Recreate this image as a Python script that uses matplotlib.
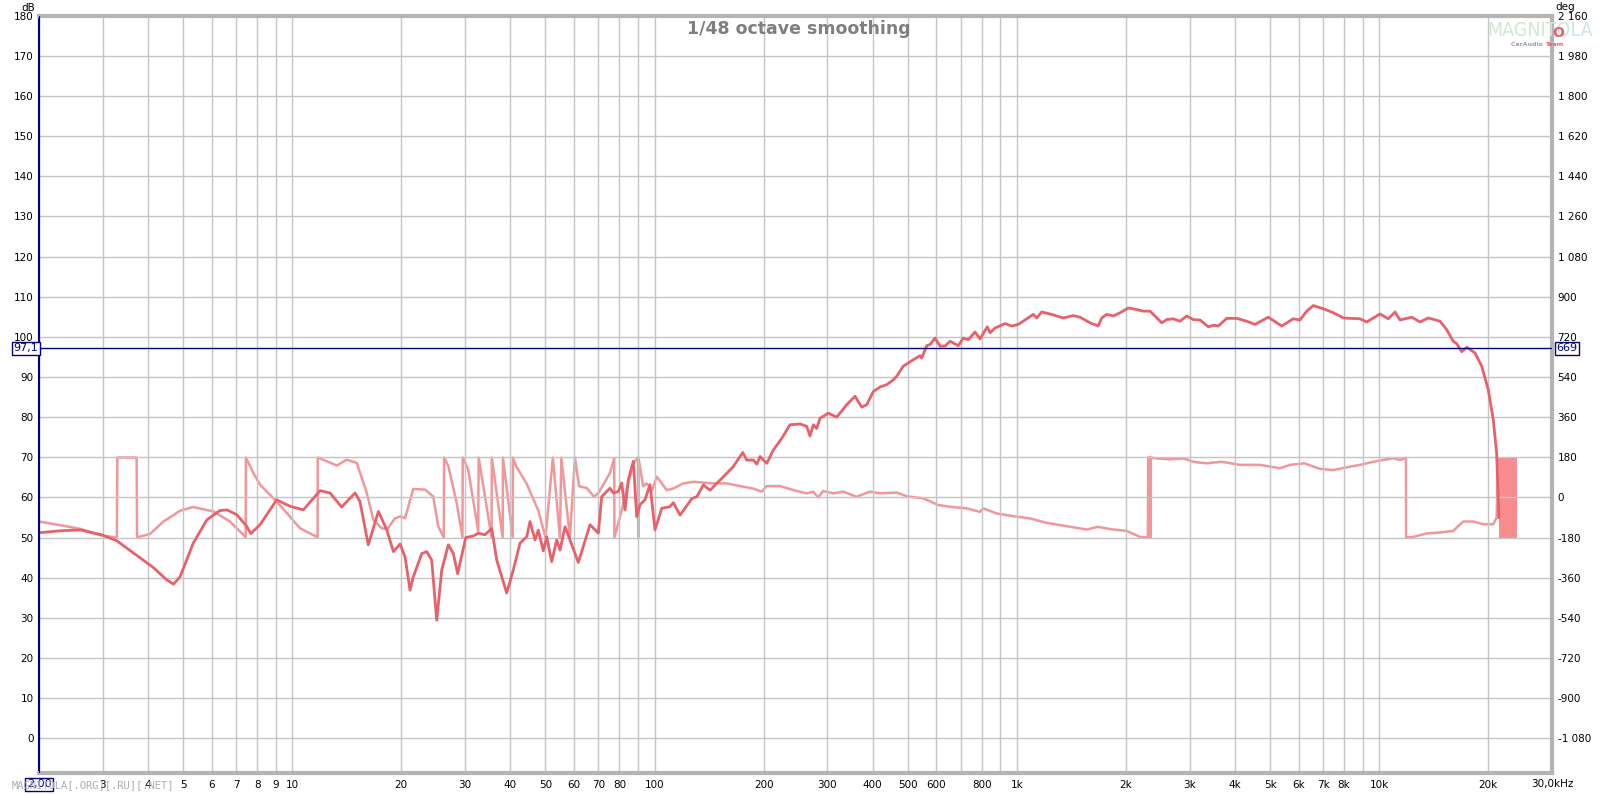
import matplotlib.pyplot as plt
from matplotlib.ticker import FuncFormatter

# SPL trace (Hz, dB)
spl_freq = [2.0, 2.3, 2.6, 3.0, 3.28, 3.64, 4.14, 4.5, 4.7, 4.9, 5.33, 5.81, 6.3, 6.6, 7.03, 7.49,
            7.68, 8.15, 9.06, 9.86, 10.73, 11.94, 12.72, 13.69, 14.9, 15.38, 16.21, 17.29, 17.6,
            18.24, 19.02, 19.84, 20.48, 21.14, 21.58, 22.77, 23.5, 24.26, 25.05, 25.86, 26.97,
            27.84, 28.62, 30.12, 31.61, 32.63, 34.05, 35.53, 36.68, 39.07, 40.75, 42.52, 44.38,
            45.32, 46.78, 47.77, 49.31, 50.39, 52.02, 53.7, 54.84, 56.61, 58.44, 61.6, 66.36,
            69.96, 71.48, 75.35, 76.95, 79.43, 81.17, 82.89, 84.64, 87.38, 89.29, 91.18, 94.12,
            97.16, 100.3, 104.7, 110.3, 112.7, 117.6, 126.7, 130.8, 136.4, 142.3, 151.6, 165.0,
            175.2, 179.7, 187.4, 191.5, 195.5, 204.0, 212.7, 224.4, 236.5, 252.1, 263.0, 268.6,
            274.3, 280.3, 286.2, 301.7, 318.3, 339.2, 357.6, 373.1, 385.2, 401.7, 419.2, 437.4,
            456.2, 466.1, 486.0, 517.8, 540.4, 546.3, 564.0, 576.0, 594.6, 613.8, 633.6, 653.9,
            689.3, 711.6, 734.6, 766.6, 791.3, 828.8, 843.2, 870.4, 927.4, 967.8, 1009, 1053,
            1110, 1135, 1171, 1235, 1344, 1431, 1494, 1592, 1678, 1715, 1770, 1846, 1927, 2031,
            2142, 2234, 2331, 2406, 2511, 2592, 2703, 2821, 2944, 3070, 3203, 3377, 3486, 3598,
            3796, 4045, 4310, 4543, 4944, 5384, 5796, 6048, 6311, 6582, 7015, 7477, 7964, 8856,
            9241, 10056, 10600, 11062, 11419, 12300, 12966, 13667, 14720, 15360, 16019, 16369,
            16898, 17443, 18388, 19190, 20013, 20660, 21102, 21414]
spl_db = [51.2, 51.7, 51.9, 50.6, 49.2, 46.2, 42.5, 39.5, 38.4, 40.2, 48.6, 54.4, 56.7, 56.9, 55.7, 52.8,
          51.0, 53.2, 59.4, 57.8, 56.9, 61.7, 61.1, 57.6, 61.1, 59.0, 48.2, 56.5, 55.0,
          51.9, 46.5, 48.4, 45.2, 36.9, 40.2, 46.0, 46.5, 44.4, 29.4, 41.9, 48.2,
          46.0, 41.0, 50.0, 50.4, 51.1, 50.7, 52.3, 44.4, 36.2, 41.9, 48.6, 50.2,
          54.0, 49.4, 51.9, 46.7, 50.2, 44.0, 49.4, 46.9, 52.7, 49.4, 43.8, 53.2,
          51.1, 60.2, 62.3, 61.1, 61.5, 63.6, 56.9, 64.4, 69.0, 55.2, 58.2, 59.4,
          63.2, 51.9, 57.3, 57.7, 58.7, 55.6, 59.7, 60.2, 63.1, 61.8, 64.3, 67.7,
          71.2, 69.3, 69.3, 68.3, 70.2, 68.5, 71.8, 74.7, 78.1, 78.3, 77.7, 75.3,
          78.1, 77.2, 79.7, 81.0, 80.0, 83.1, 85.2, 82.5, 83.1, 86.4, 87.5, 88.1,
          89.3, 90.2, 92.7, 94.3, 95.3, 94.7, 97.8, 98.1, 99.7, 97.7, 97.7, 98.9,
          97.8, 99.7, 99.3, 101.2, 99.5, 102.5, 101.0, 102.2, 103.3, 102.7, 103.1, 104.2,
          105.6, 104.7, 106.2, 105.7, 104.7, 105.3, 104.9, 103.5, 102.7, 104.7, 105.6, 105.2, 106.0, 107.2,
          106.8, 106.4, 106.4, 105.2, 103.5, 104.3, 104.5, 103.9, 105.2, 104.3, 104.2, 102.5, 102.9, 102.7,
          104.6, 104.6, 103.9, 103.1, 104.9, 102.7, 104.5, 104.2, 106.4, 107.8, 107.0, 106.0, 104.7, 104.5,
          103.7, 105.7, 104.5, 106.2, 104.2, 104.9, 103.7, 104.7, 103.9, 101.8, 98.9, 98.3,
          96.3, 97.4, 96.0, 92.7, 86.8, 79.3, 71.0, 55.0]

# phase trace (Hz, deg), wrapped to +-180
phase_freq = [2.0, 2.3, 2.6, 3.0, 3.28, 3.29, 3.72, 3.73, 4.05, 4.41, 4.9, 5.33, 6.06, 6.73, 7.44, 7.45,
              7.81, 8.15, 8.87, 9.66, 10.5, 11.75, 11.76, 12.18, 13.27, 14.14, 15.07, 16.06, 16.74,
              17.66, 18.3, 19.2, 19.84, 20.48, 21.58, 23.26, 24.5, 25.3, 26.2, 26.25, 26.97, 28.44,
              29.5, 29.55, 30.6, 32.6, 32.7, 35.5, 35.55, 38.1, 38.15, 40.6, 40.65, 41.5, 44.4,
              47.8, 50.0, 52.4, 54.8, 55.3, 58.4, 60.3, 61.9, 65.0, 68.0, 70.0, 72.2, 75.35, 77.4,
              77.5, 80.3, 83.7, 87.4, 90.0, 90.15, 90.3, 93.0, 95.1, 98.5, 101.4, 104.7, 108.0,
              112.7, 120, 128, 145, 158, 172, 187, 197.6, 204, 222, 241.6, 263, 274, 283, 292,
              311.6, 332, 361, 393, 419, 466, 497, 552, 607, 654, 727, 791, 808, 880, 978, 1087,
              1209, 1373, 1559, 1671, 1846, 2010, 2188, 2300, 2305, 2312, 2318, 2325, 2332, 2340,
              2345, 2432, 2647, 2881, 3070, 3203, 3342, 3676, 4130, 4690, 5326, 5672, 6215, 6868,
              7477, 8136, 8856, 9637, 10270, 10944, 11419, 11860, 11870, 12400, 13500, 14720,
              16019, 16369, 17071, 18196, 19386, 20660, 21102, 21300]
phase_deg = [-108, -125, -141, -172, -179, 179, 179, -179, -164, -108, -60, -43, -63, -108, -178, 179,
             110, 57, -3, -70, -138, -179, 179, 169, 143, 169, 155, 20, -100,
             -138, -142, -94, -85, -93, 38, 35, 4, -130, -179, 179, 140, -25,
             -179, 179, 124, -150, 179, -179, 179, -179, 179, -179, 179, 140, 60,
             -60, -179, 179, -179, 179, -179, 179, 50, 42, 4, 20, 57, 110, 177,
             -179, -87, 33, 153, 179, -179, 179, 50, 63, 33, 93, 63, 33,
             40, 63, 70, 63, 63, 51, 40, 26, 51, 51, 33, 18, 26, 0, 29,
             18, 26, 3, 26, 18, 22, 5, -4, -34, -42, -49, -65, -49, -72, -84, -94,
             -114, -129, -144, -132, -144, -150, -177, -179, 179, -179, 179, -179, 179, -179,
             178, 175, 171, 175, 160, 156, 153, 160, 146, 146, 131, 146, 153, 128,
             123, 135, 146, 160, 168, 176, 168, 178, -179, -177, -162, -157,
             -150, -135, -108, -108, -120, -120, -90, 175]

# band where the phase wraps too fast to resolve
wrap_band_hz = [21430, 24070]

cursor_hz = 2.0
cursor_db = 97.1
cursor_deg = 669

x_grid = [2, 3, 4, 5, 6, 7, 8, 9, 10, 20, 30, 40, 50, 60, 70, 80, 90, 100, 200, 300, 400, 500,
          600, 700, 800, 900, 1000, 2000, 3000, 4000, 5000, 6000, 7000, 8000, 9000, 10000, 20000]
x_labels = ['', '3', '4', '5', '6', '7', '8', '9', '10', '20', '30', '40', '50', '60', '70', '80', '',
            '100', '200', '300', '400', '500', '600', '', '800', '', '1k', '2k', '3k', '4k', '5k', '6k',
            '7k', '8k', '', '10k', '20k']

spl_color = '#e8606a'
phase_color = '#f1979a'
navy = '#000080'

fig = plt.figure(figsize=(16, 7.95), dpi=100)
ax = fig.add_axes([39 / 1600, 1 - 772.7 / 795, (1552 - 39) / 1600, (772.7 - 15.7) / 795])
ax.set_xscale('log')
ax.set_xlim(2, 30000)
ylo = -8.57
ax.set_ylim(ylo, 180)

ax.set_xticks(x_grid)
ax.set_xticklabels(x_labels)
ax.xaxis.set_minor_locator(plt.NullLocator())
ax.set_yticks(range(0, 181, 10))
ax.grid(True, color='#c4c4c4', lw=1)
ax.tick_params(length=0, labelsize=7.5, pad=4)
ax.tick_params(axis='x', pad=5)

for side in ['top', 'right', 'bottom']:
    ax.spines[side].set_color('#b4b4b4')
    ax.spines[side].set_linewidth(3)
ax.spines['left'].set_color(navy)
ax.spines['left'].set_linewidth(1.5)

# phase on the right-hand scale: -180..180 deg sits on 50..70 dB
ax2 = ax.twinx()
ax2.set_ylim((ylo - 60) * 18, (180 - 60) * 18)
ax2.set_yticks(range(-1080, 2161, 180))
ax2.yaxis.set_major_formatter(FuncFormatter(lambda v, p: f'{int(v):,}'.replace(',', ' ')))
ax2.tick_params(length=0, labelsize=7.5, pad=4)
for s in ax2.spines.values():
    s.set_visible(False)

ax2.fill_between(wrap_band_hz, -180, 180, color='#f98c8f', lw=0, zorder=2)
ax2.plot(phase_freq, phase_deg, color=phase_color, lw=1.8, zorder=3)
ax.set_zorder(ax2.get_zorder() + 1)
ax.patch.set_visible(False)
ax.plot(spl_freq, spl_db, color=spl_color, lw=2.0, zorder=4)

ax.axhline(cursor_db, color=navy, lw=1, zorder=5)
ax.axvline(cursor_hz, color=navy, lw=1.5, zorder=5)

box = dict(boxstyle='square,pad=0.15', fc='white', ec=navy, lw=1)
ax.text(-0.0005, cursor_db, str(cursor_db).replace('.', ','), transform=ax.get_yaxis_transform(),
        ha='right', va='center', color=navy, fontsize=8, bbox=box, clip_on=False, zorder=10)
ax.text(1.003, cursor_db, str(cursor_deg), transform=ax.get_yaxis_transform(),
        ha='left', va='center', color=navy, fontsize=8, bbox=box, clip_on=False, zorder=10)
fig.text(12 / 1600, 1 - 785 / 795, 'MAGNITOLA[.ORG][.RU][.NET]', color='#a6aeb8',
         fontsize=7.5, family='DejaVu Sans Mono', va='center', ha='left', zorder=1)
ax.text(cursor_hz, -0.0155, f'{cursor_hz:.2f}'.replace('.', ','), transform=ax.get_xaxis_transform(),
        ha='center', va='center', color=navy, fontsize=8, bbox=box, clip_on=False, zorder=10)
ax.text(30000, -0.0155, '30,0kHz', transform=ax.get_xaxis_transform(),
        ha='center', va='center', fontsize=7.5, clip_on=False)

fig.text(28 / 1600, 1 - 8 / 795, 'dB', fontsize=7.5, ha='center', va='center')
fig.text(1565 / 1600, 1 - 7 / 795, 'deg', fontsize=7.5, ha='center', va='center')
fig.text(799 / 1600, 1 - 28.5 / 795, '1/48 octave smoothing', fontsize=12.5, fontweight='bold',
         color='#7f7f7f', ha='center', va='center')

# logo in the top right corner
fig.text(1540 / 1600, 1 - 31 / 795, 'MAGNITOLA', fontsize=14, color='#cfe8d6', ha='center',
         va='center', family='DejaVu Sans', fontstretch='condensed')
fig.text(1558 / 1600, 1 - 33 / 795, 'O', fontsize=10, color='#e86070', ha='center', va='center',
         fontweight='bold')
fig.text(1545 / 1600, 1 - 45 / 795, 'CarAudio ', fontsize=4.5, color='#9aa0b0', ha='right', va='center',
         fontweight='bold')
fig.text(1545 / 1600, 1 - 45 / 795, 'Team', fontsize=4.5, color='#e86070', ha='left', va='center',
         fontweight='bold')

plt.savefig('out.png')
